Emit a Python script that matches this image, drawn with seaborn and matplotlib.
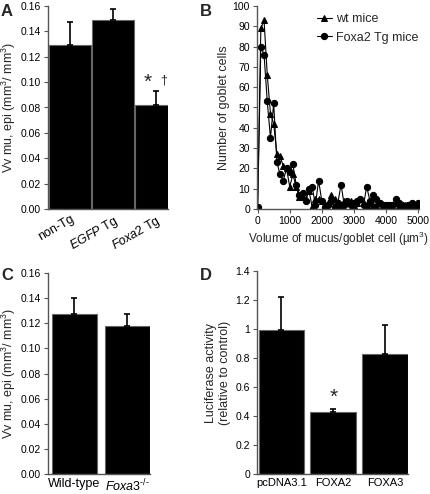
import matplotlib
matplotlib.use("Agg")
import matplotlib.pyplot as plt
import seaborn as sns
import pandas as pd
import numpy as np

sns.set_theme(style="ticks")
plt.rcParams['font.family'] = ['Liberation Sans', 'DejaVu Sans']
plt.rcParams['mathtext.fontset'] = 'custom'
plt.rcParams['mathtext.rm'] = 'Liberation Sans'
plt.rcParams['mathtext.it'] = 'Liberation Sans:italic'

# Panel A
a_labels = ["non-Tg", r"$\it{EGFP}$ Tg", r"$\it{Foxa2}$ Tg"]
a_values = [0.129, 0.149, 0.082]
a_errors = [0.018, 0.009, 0.011]

# Panel B
b_volume = list(range(0, 5001, 100))
b_wt = [1, 89, 93, 66, 47, 42, 27, 26, 21, 20, 11, 17, 11, 6, 6, 5, 9, 1, 5, 5,
        4, 2, 3, 7, 5, 3, 2, 4, 3, 4, 2, 3, 5, 3, 2, 3, 2, 2, 3, 2,
        2, 1, 2, 3, 2, 1, 2, 1, 2, 1, 2]
b_foxa2 = [1, 80, 76, 53, 35, 52, 23, 17, 14, 20, 18, 22, 12, 7, 8, 4, 10, 11, 2, 14,
           4, 1, 2, 4, 1, 3, 12, 2, 4, 2, 3, 4, 5, 2, 11, 4, 7, 5, 3, 2,
           2, 2, 2, 5, 3, 2, 1, 2, 3, 2, 3]

# Panel C
c_labels = ["Wild-type", "$\\it{Foxa3}^{\\it{\u2010/\u2010}}$"]
c_values = [0.127, 0.118]
c_errors = [0.013, 0.009]

# Panel D
d_labels = ["pcDNA3.1", "FOXA2", "FOXA3"]
d_values = [0.99, 0.43, 0.83]
d_errors = [0.23, 0.02, 0.20]

W, H = 430, 494
fig = plt.figure(figsize=(W / 100, H / 100), dpi=100)


def px_axes(left, top, right, bottom):
    return fig.add_axes([left / W, (H - bottom) / H, (right - left) / W, (bottom - top) / H])


TICK = 7.5
LAB = 8.5
SPINE = '#555555'


def style(ax):
    sns.despine(ax=ax)
    for s in ['left', 'bottom']:
        ax.spines[s].set_color(SPINE)
        ax.spines[s].set_linewidth(1.0)
    ax.tick_params(axis='both', labelsize=TICK, labelcolor='black', length=3, width=0.8,
                   pad=2, direction='out', color=SPINE)


def bars(ax, labels, values, errors, width):
    df = pd.DataFrame({"g": labels, "v": values})
    sns.barplot(data=df, x="g", y="v", ax=ax, color="black", width=width,
                edgecolor="#666666", linewidth=0.8, saturation=1, errorbar=None)
    x = np.arange(len(values))
    ax.errorbar(x, values, yerr=[np.zeros(len(errors)), errors], fmt='none',
                ecolor='black', elinewidth=1.2, capsize=2.5, capthick=1.2)
    ax.set_xlabel("")


# ---- A
axA = px_axes(48, 6, 168, 209)
bars(axA, a_labels, a_values, a_errors, 0.96)
style(axA)
axA.set_xlim(-0.51, 2.28)
axA.set_ylim(0, 0.16)
axA.set_yticks(np.arange(0, 0.161, 0.02))
axA.set_yticklabels([f"{v:.2f}" for v in np.arange(0, 0.161, 0.02)])
axA.set_ylabel(r"Vv mu, epi (mm$^3$/ mm$^3$)", fontsize=LAB + 0.5, labelpad=2)
axA.tick_params(axis='x', length=0, labelsize=LAB + 0.5, pad=3)
for t in axA.get_xticklabels():
    t.set_rotation(30)
    t.set_ha('right')
    t.set_rotation_mode('anchor')
axA.text(1.81, 0.100, "*", fontsize=15, ha='center', va='center')
axA.text(2.19, 0.101, "†", fontsize=9, ha='center', va='center')
fig.text(1 / W, 1 - 16 / H, "A", fontsize=12, fontweight='bold')

# ---- B
axB = px_axes(257, 6, 419, 209)
dfB = pd.DataFrame({
    "vol": b_volume * 2,
    "n": b_wt + b_foxa2,
    "grp": ["wt mice"] * len(b_wt) + ["Foxa2 Tg mice"] * len(b_foxa2),
})
sns.lineplot(data=dfB, x="vol", y="n", hue="grp", style="grp",
             palette=["black", "black"], markers=["^", "o"], dashes=False,
             markersize=4.5, linewidth=0.8, markeredgecolor='black', ax=axB)
style(axB)
axB.set_xlim(-20, 5030)
axB.set_ylim(0, 100)
axB.set_xticks(range(0, 5001, 1000))
axB.set_yticks(range(0, 101, 10))
axB.set_xlabel("Volume of mucus/goblet cell (\u00b5m$^3$)", fontsize=LAB, labelpad=3)
axB.set_ylabel("Number of goblet cells", fontsize=LAB + 0.5, labelpad=2)
leg = axB.legend(frameon=False, fontsize=LAB + 0.5, loc='upper right', bbox_to_anchor=(1.04, 1.0),
                 handlelength=1.2, handletextpad=0.3, borderaxespad=0.2, labelspacing=0.5)
fig.text(200 / W, 1 - 16 / H, "B", fontsize=12, fontweight='bold')

# ---- C
axC = px_axes(48, 273, 150, 474)
bars(axC, c_labels, c_values, c_errors, 0.86)
style(axC)
axC.set_xlim(-0.5, 1.43)
axC.set_ylim(0, 0.16)
axC.set_yticks(np.arange(0, 0.161, 0.02))
axC.set_yticklabels([f"{v:.2f}" for v in np.arange(0, 0.161, 0.02)])
axC.set_ylabel(r"Vv mu, epi (mm$^3$/ mm$^3$)", fontsize=LAB + 0.5, labelpad=2)
axC.tick_params(axis='x', length=0, labelsize=LAB + 0.5, pad=3)
fig.text(1 / W, 1 - 280 / H, "C", fontsize=12, fontweight='bold')

# ---- D
axD = px_axes(257, 271, 408, 474)
bars(axD, d_labels, d_values, d_errors, 0.88)
style(axD)
axD.set_xlim(-0.47, 2.44)
axD.set_ylim(0, 1.4)
axD.set_yticks(np.arange(0, 1.41, 0.2))
axD.set_yticklabels([f"{v:g}" for v in np.round(np.arange(0, 1.41, 0.2), 1)])
axD.set_ylabel("Luciferase activity\n(relative to control)", fontsize=LAB + 0.5, labelpad=3,
               linespacing=1.3)
axD.tick_params(axis='x', length=0, labelsize=TICK + 0.5, pad=3)
axD.text(1.0, 0.528, "*", fontsize=15, ha='center', va='center')
fig.text(200 / W, 1 - 280 / H, "D", fontsize=12, fontweight='bold')

fig.savefig("out.png", dpi=100)
